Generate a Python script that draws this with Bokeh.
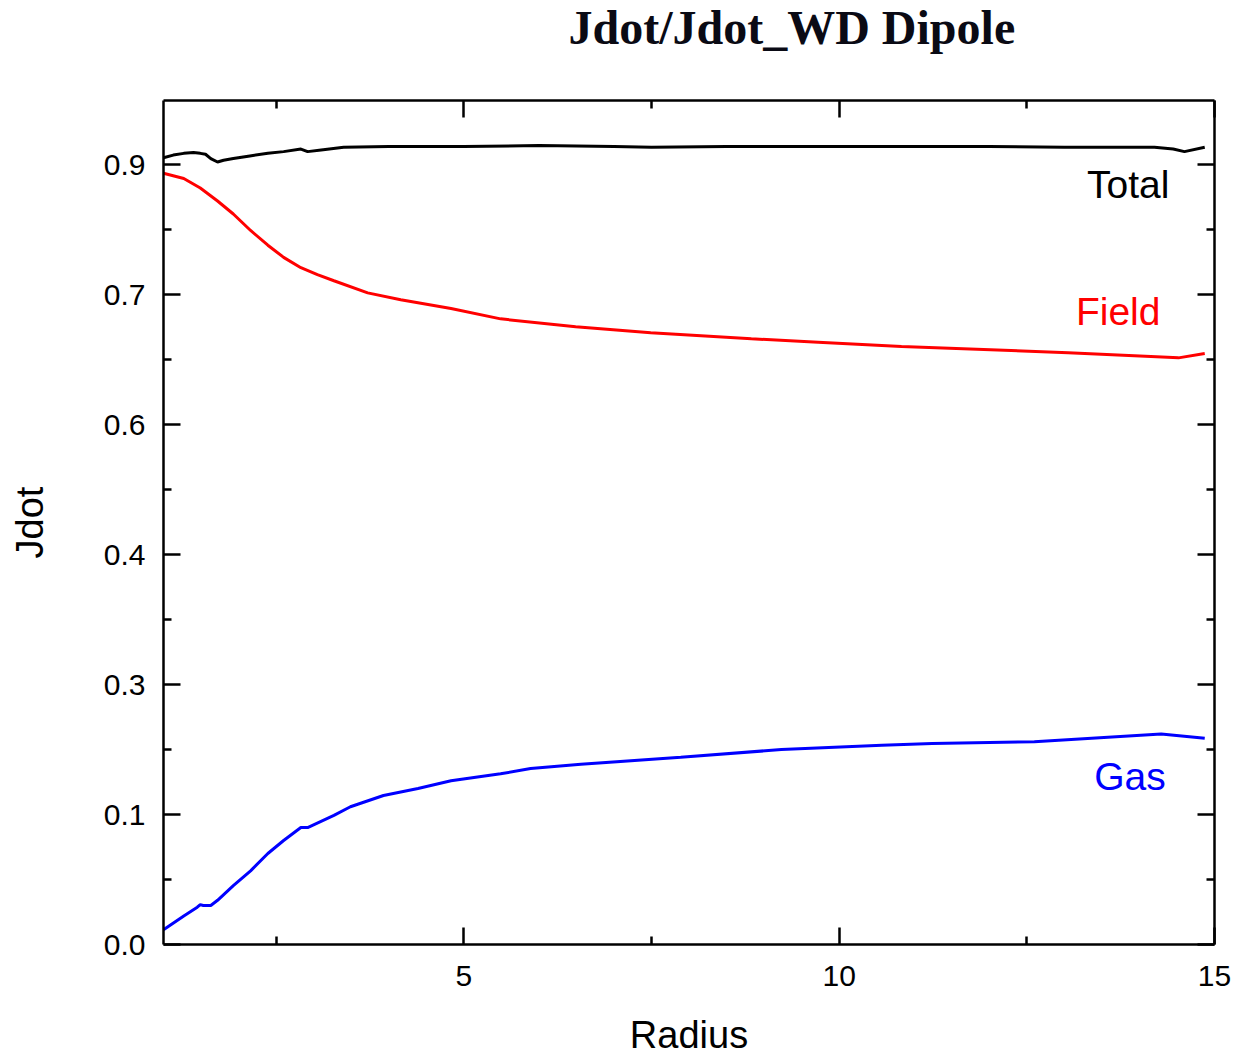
from bokeh.plotting import figure
from bokeh.models import Range1d, FixedTicker, LinearAxis, Label, CustomLabelingPolicy
from bokeh.embed import file_html
from bokeh.resources import INLINE

# ---- data ----
radius_total = [1.0, 1.13, 1.27, 1.4, 1.49, 1.56, 1.63, 1.72, 1.8, 1.93, 2.15, 2.39,
                2.6, 2.83, 2.92, 3.1, 3.4, 4.0, 4.5, 5.0, 6.0, 7.0, 7.5, 8.5, 9.0,
                10.0, 11.0, 12.0, 13.0, 14.2, 14.45, 14.6, 14.87]
total = [0.908, 0.911, 0.913, 0.914, 0.913, 0.912, 0.907, 0.903, 0.905, 0.907, 0.910, 0.913,
         0.915, 0.918, 0.915, 0.917, 0.920, 0.921, 0.921, 0.921, 0.922, 0.921, 0.920, 0.921, 0.921,
         0.921, 0.921, 0.921, 0.920, 0.920, 0.918, 0.915, 0.920]

radius_field = [1.0, 1.27, 1.49, 1.72, 1.93, 2.16, 2.39, 2.6, 2.83, 3.05, 3.27, 3.72,
                4.16, 4.83, 5.49, 6.49, 7.49, 8.83, 9.72, 10.83, 13.05, 14.52, 14.87]
field = [0.890, 0.884, 0.873, 0.858, 0.843, 0.824, 0.807, 0.793, 0.781, 0.773, 0.766, 0.752,
         0.744, 0.734, 0.722, 0.713, 0.706, 0.699, 0.695, 0.690, 0.683, 0.677, 0.682]

radius_gas = [1.0, 1.27, 1.45, 1.49, 1.53, 1.63, 1.72, 1.93, 2.16, 2.39, 2.6, 2.83, 2.92,
              3.27, 3.49, 3.93, 4.39, 4.83, 5.23, 5.49, 5.89, 6.56, 7.89, 9.23, 10.57,
              11.24, 12.6, 14.29, 14.87]
gas = [0.017, 0.033, 0.043, 0.046, 0.045, 0.045, 0.051, 0.068, 0.085, 0.105, 0.120, 0.135, 0.135,
       0.149, 0.159, 0.172, 0.180, 0.189, 0.194, 0.197, 0.203, 0.208, 0.216, 0.225, 0.230,
       0.232, 0.234, 0.243, 0.238]

x_ticks = [5, 10, 15]
x_minor = [2.5, 7.5, 12.5]
y_ticks = [0.0, 0.15, 0.3, 0.45, 0.6, 0.75, 0.9]
y_tick_labels = ["0.0", "0.1", "0.3", "0.4", "0.6", "0.7", "0.9"]
y_minor = [0.075, 0.225, 0.375, 0.525, 0.675, 0.825]

series_labels = ["Total", "Field", "Gas"]
series_colors = ["black", "#ff0000", "#0000ff"]
title_text = "Jdot/Jdot_WD Dipole"

# ---- figure ----
p = figure(width=1237, height=1103, output_backend="svg", toolbar_location=None,
           x_range=Range1d(1, 15), y_range=Range1d(0, 0.974),
           min_border_left=163, min_border_right=23, min_border_top=145, min_border_bottom=114,
           x_axis_label="Radius", y_axis_label="Jdot")
p.styles = {"margin-top": "-45px"}
p.background_fill_color = "white"
p.border_fill_color = "white"
p.outline_line_color = None
p.xgrid.visible = False
p.ygrid.visible = False

p.title.text = title_text
p.title.text_font = "Liberation Serif"
p.title.text_font_style = "bold"
p.title.text_font_size = "48px"
p.title.text_color = "#0a0a14"
p.title.align = "left"
p.title.offset = 405
p.title.vertical_align = "top"
p.title.standoff = 90

xt = FixedTicker(ticks=x_ticks, minor_ticks=x_minor)
yt = FixedTicker(ticks=y_ticks, minor_ticks=y_minor)
overrides = dict(zip(y_ticks, y_tick_labels))


def style_axis(ax, ticker, label_size="30px"):
    ax.ticker = ticker
    ax.axis_line_width = 2.5
    ax.axis_line_color = "black"
    ax.major_tick_line_width = 2.5
    ax.minor_tick_line_width = 2.5
    ax.major_tick_in = 17
    ax.major_tick_out = 0
    ax.minor_tick_in = 8
    ax.minor_tick_out = 0
    ax.major_label_text_font = "Liberation Sans"
    ax.major_label_text_font_size = label_size
    ax.major_label_text_color = "black"
    ax.axis_label_text_font = "Liberation Sans"
    ax.axis_label_text_font_size = "38px"
    ax.axis_label_text_font_style = "normal"
    ax.axis_label_text_color = "black"


style_axis(p.xaxis[0], xt)
style_axis(p.yaxis[0], yt)
p.yaxis[0].major_label_overrides = overrides
p.xaxis[0].major_label_standoff = 21
p.xaxis[0].axis_label_standoff = 25
p.yaxis[0].major_label_standoff = 18
p.yaxis[0].axis_label_standoff = 50

hide_code = "for (const i of indices) { indices.unset(i) } return indices"
top = LinearAxis(major_label_standoff=0)
style_axis(top, xt, "0px")
top.major_label_policy = CustomLabelingPolicy(code=hide_code)
p.add_layout(top, "above")
right = LinearAxis(major_label_standoff=0)
style_axis(right, yt, "0px")
right.major_label_policy = CustomLabelingPolicy(code=hide_code)
p.add_layout(right, "right")

# ---- lines ----
p.line(radius_total, total, line_color=series_colors[0], line_width=3)
p.line(radius_field, field, line_color=series_colors[1], line_width=3)
p.line(radius_gas, gas, line_color=series_colors[2], line_width=3)

# ---- series labels ----
label_pos = [(14.4, 0.877), (14.28, 0.730), (14.35, 0.194)]
for (lx, ly), txt, col in zip(label_pos, series_labels, series_colors):
    p.add_layout(Label(x=lx, y=ly, text=txt, text_color=col, text_align="right",
                       text_baseline="alphabetic", text_font="Liberation Sans",
                       text_font_size="39px"))

open("out.html", "w").write(file_html(p, INLINE))
